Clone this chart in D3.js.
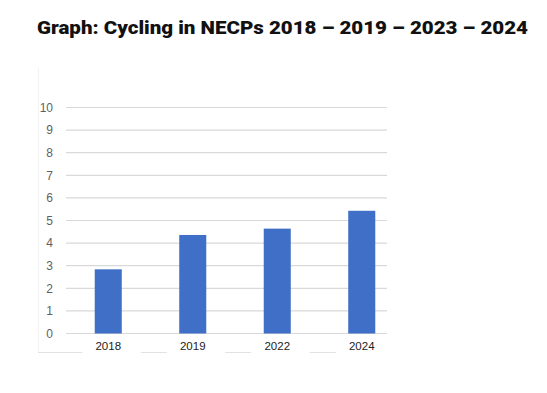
<!DOCTYPE html>
<html>
<head>
<meta charset="utf-8">
<script src="https://cdn.jsdelivr.net/npm/d3@7"></script>
<style>
  body { margin: 0; background: #fff; }
  svg { display: block; }
</style>
</head>
<body>
<div id="chart"></div>
<script>
// Chart data
const years = ['2018', '2019', '2022', '2024'];
const values = [2.84, 4.36, 4.64, 5.43];
const yTicks = [0, 1, 2, 3, 4, 5, 6, 7, 8, 9, 10];
const title = 'Graph: Cycling in NECPs 2018 – 2019 – 2023 – 2024';

const width = 547, height = 393;

const svg = d3.select('#chart')
    .append('svg')
    .attr('width', width)
    .attr('height', height);

// Title
svg.append('text')
    .attr('x', 37)
    .attr('y', 34)
    .attr('font-family', 'Roboto, sans-serif')
    .attr('font-weight', 900)
    .attr('font-size', 19)
    .attr('fill', '#111')
    .attr('textLength', 491)
    .attr('lengthAdjust', 'spacingAndGlyphs')
    .text(title);

// faint border of the embedded image
svg.append('line')
    .attr('x1', 38.5).attr('x2', 38.5)
    .attr('y1', 68).attr('y2', 352)
    .attr('stroke', '#f2f2f2')
    .attr('stroke-width', 1);

// Scales
const xScale = d3.scaleBand()
    .domain(years)
    .range([66, 404])
    .paddingInner(0.68)
    .paddingOuter(0.34);

const yScale = d3.scaleLinear()
    .domain([0, 10])
    .range([333.5, 107.5]);

// Gridlines
svg.append('g')
    .selectAll('line')
    .data(yTicks)
    .join('line')
    .attr('x1', 66)
    .attr('x2', 387)
    .attr('y1', d => yScale(d))
    .attr('y2', d => yScale(d))
    .attr('stroke', '#d9d9d9')
    .attr('stroke-width', 1.2);

// Y axis labels
const yAxis = d3.axisLeft(yScale)
    .tickValues(yTicks)
    .tickSize(0)
    .tickPadding(0);

svg.append('g')
    .attr('transform', 'translate(53,0)')
    .call(yAxis)
    .call(g => g.select('.domain').remove())
    .call(g => g.attr('font-size', 12).attr('font-family', 'Liberation Sans, Arial, sans-serif'))
    .selectAll('text')
    .attr('fill', '#5f5f5f');

// Bars
svg.append('g')
    .selectAll('rect')
    .data(values)
    .join('rect')
    .attr('x', (d, i) => xScale(years[i]))
    .attr('y', d => yScale(d))
    .attr('width', xScale.bandwidth())
    .attr('height', d => yScale(0) - yScale(d))
    .attr('fill', '#3f6fc6');

// X axis labels
const xAxis = d3.axisBottom(xScale)
    .tickSize(0)
    .tickPadding(0);

svg.append('g')
    .attr('transform', 'translate(0,342)')
    .call(xAxis)
    .call(g => g.select('.domain').remove())
    .call(g => g.attr('font-size', 11.5).attr('font-family', 'Liberation Sans, Arial, sans-serif'))
    .selectAll('text')
    .attr('fill', '#222');

// faint short rules between the year labels
svg.append('g')
    .selectAll('line')
    .data(years)
    .join('line')
    .attr('x1', (d, i) => i === 0 ? 38 : xScale(d) + xScale.bandwidth() / 2 - 52)
    .attr('x2', d => xScale(d) + xScale.bandwidth() / 2 - 26)
    .attr('y1', 352.5)
    .attr('y2', 352.5)
    .attr('stroke', '#e2e2e2')
    .attr('stroke-width', 1);
</script>
</body>
</html>
